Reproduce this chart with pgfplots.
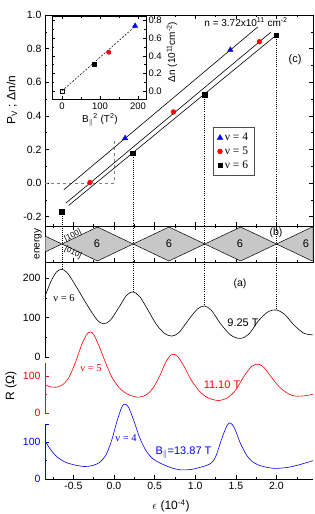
\documentclass[border=0pt]{standalone}
\usepackage{pgfplots}
\usepackage{pgfplotstable}
\pgfplotsset{compat=1.18}
\usepackage{fontspec}
\setmainfont{Liberation Sans}
\newfontfamily\tnr{Liberation Serif}

\pgfplotstableread{
e R
-0.85 153
-0.78 190
-0.71 215
-0.646 222
-0.58 214
-0.50 190
-0.39 152
-0.28 115
-0.20 92
-0.13 84
-0.05 92
0.05 122
0.15 155
0.231 165
0.32 152
0.42 118
0.52 83
0.62 60
0.71 53
0.80 62
0.92 95
1.03 122
1.115 129
1.20 118
1.32 82
1.44 55
1.556 47
1.66 58
1.78 92
1.90 115
2.0 119
2.10 108
2.22 80
2.34 60
2.45 56
}\blackdata

\pgfplotstableread{
e R
-0.85 77
-0.78 71
-0.72 70
-0.64 76
-0.56 95
-0.48 135
-0.40 185
-0.34 213
-0.296 221
-0.25 214
-0.18 180
-0.10 135
-0.02 95
0.08 65
0.18 50
0.296 43
0.40 50
0.48 68
0.56 100
0.64 140
0.70 158
0.732 160
0.78 155
0.86 128
0.95 90
1.05 60
1.15 42
1.284 34
1.40 42
1.50 63
1.60 100
1.70 128
1.78 133
1.85 123
1.95 94
2.05 68
2.15 52
2.235 46
2.35 47
2.45 51
}\reddata

\pgfplotstableread{
e R
-0.85 104
-0.78 80
-0.70 60
-0.60 46
-0.48 38
-0.36 34
-0.26 37
-0.18 45
-0.10 65
-0.03 105
0.04 160
0.10 198
0.136 204
0.18 195
0.25 155
0.32 110
0.40 75
0.48 55
0.57 43
0.70 31
0.815 25
0.95 26
1.08 33
1.18 41
1.25 60
1.33 112
1.39 145
1.432 153
1.48 140
1.53 112
1.556 97
1.60 78
1.638 63
1.70 48
1.78 38
1.90 31
2.00 29
2.15 32
2.30 40
2.45 50
}\bluedata

\begin{document}
\begin{tikzpicture}[x=1pt,y=1pt]
\pgfplotsset{
  every axis/.append style={
    scale only axis,
    /pgf/number format/assume math mode=true,
    tick align=inside,
    tick style={black, line width=0.5pt},
    major tick length=4pt,
    minor tick length=2.2pt,
    axis line style={line width=0.6pt},
    ticklabel style={font=\fontsize{10.5}{12}\selectfont},
  },
}
\tikzset{vdot/.style={black, line width=0.5pt, dash pattern=on 0.8pt off 1.3pt}}

% ---------------- panel (c)
\begin{axis}[
  at={(45pt,-15pt)}, anchor=north west,
  width=268pt, height=211pt,
  xmin=-0.85, xmax=2.45, ymin=-0.256, ymax=1.0,
  xtick distance=0.5, minor x tick num=1, xticklabels={},
  ytick={-0.2,0,0.2,0.4,0.6,0.8,1.0}, minor y tick num=1,
  yticklabel style={/pgf/number format/fixed, /pgf/number format/fixed zerofill, /pgf/number format/precision=1},
  legend style={at={(0.627,0.469)}, anchor=north west, draw=black!70, line width=0.5pt,
    font=\tnr\fontsize{11.5}{13}\selectfont, inner xsep=4pt, inner ysep=4pt, row sep=0.5pt,
    cells={anchor=west}},
  legend image code/.code={\draw[mark repeat=2,mark phase=2,#1] plot coordinates {(0cm,0cm)(0.2cm,0cm)(0.4cm,0cm)};},
]
\addplot[gray, dashed, line width=0.5pt, forget plot] coordinates {(-0.85,0) (0,0) (0,0.256)};
\addplot[vdot, forget plot] coordinates {(-0.642,-0.171) (-0.642,-0.256)};
\addplot[vdot, forget plot] coordinates {(0.231,0.177) (0.231,-0.256)};
\addplot[vdot, forget plot] coordinates {(1.115,0.526) (1.115,-0.256)};
\addplot[vdot, forget plot] coordinates {(2.0,0.881) (2.0,-0.256)};
\addplot[black, line width=0.6pt, forget plot] coordinates {(-0.617,-0.040) (1.77,0.929)};
\addplot[black, line width=0.6pt, forget plot] coordinates {(-0.593,-0.120) (1.93,0.897)};
\addplot[black, line width=0.6pt, forget plot] coordinates {(-0.56,-0.134) (2.0,0.881)};
\addplot[only marks, mark=triangle*, mark size=3.2pt, color=blue] coordinates {(0.136,0.266) (1.432,0.792)};
\addlegendentry{ν = 4}
\addplot[only marks, mark=*, mark size=2.4pt, color=red] coordinates {(-0.296,0.003) (0.732,0.423) (1.79,0.841)};
\addlegendentry{ν = 5}
\addplot[only marks, mark=square*, mark size=2.2pt, color=black] coordinates {(-0.642,-0.171) (0.231,0.177) (1.115,0.526) (2.0,0.881)};
\addlegendentry{ν = 6}
\end{axis}

% ---------------- inset
\begin{axis}[
  at={(52pt,-16pt)}, anchor=north west,
  width=94pt, height=83pt,
  xmin=-26, xmax=221, ymin=-0.091, ymax=0.852,
  xtick={0,100,200}, minor x tick num=1,
  ytick={0,0.2,0.4,0.6,0.8}, minor y tick num=1,
  yticklabel pos=right,
  major tick length=3pt, minor tick length=1.8pt,
  ticklabel style={font=\fontsize{9.5}{11}\selectfont},
  yticklabel style={/pgf/number format/fixed, /pgf/number format/fixed zerofill, /pgf/number format/precision=1, xshift=-1pt},
  axis background/.style={fill=white},
  axis line style={line width=0.5pt},
]
\addplot[black, dash pattern=on 2pt off 1.5pt, line width=0.5pt] coordinates {(0,0) (195,0.745)};
\addplot[only marks, mark=square, mark size=2pt, black, fill=white] coordinates {(0,0)};
\addplot[only marks, mark=square*, mark size=2pt, black] coordinates {(85.6,0.30)};
\addplot[only marks, mark=*, mark size=2.2pt, red] coordinates {(123.2,0.44)};
\addplot[only marks, mark=triangle*, mark size=3pt, blue] coordinates {(192.4,0.74)};
\end{axis}

% ---------------- energy panel (b)
\begin{axis}[
  at={(45pt,-226pt)}, anchor=north west,
  width=268pt, height=36pt,
  xmin=-0.85, xmax=2.45, ymin=-0.03, ymax=1.03,
  xtick distance=0.5, minor x tick num=1, xticklabels={},
  ytick=\empty,
]
\addplot[fill=black!22, draw=black, line width=0.5pt] coordinates {
(-0.85,0.737) (-0.642,0.5) (-0.2035,1) (0.235,0.5) (0.6765,1) (1.118,0.5) (1.559,1) (2.0,0.5) (2.44,1) (2.45,0.989)
(2.45,0.011) (2.44,0) (2.0,0.5) (1.559,0) (1.118,0.5) (0.6765,0) (0.235,0.5) (-0.2035,0) (-0.642,0.5) (-0.85,0.263)} -- cycle;
\addplot[vdot] coordinates {(-0.642,-0.03) (-0.642,1.03)};
\addplot[vdot] coordinates {(0.231,-0.03) (0.231,1.03)};
\addplot[vdot] coordinates {(1.115,-0.03) (1.115,1.03)};
\addplot[vdot] coordinates {(2.0,-0.03) (2.0,1.03)};
\end{axis}

% ---------------- panel (a)
\begin{axis}[
  at={(45pt,-262pt)}, anchor=north west,
  width=268pt, height=217pt,
  xmin=-0.85, xmax=2.45, ymin=0, ymax=217,
  clip=false,
  separate axis lines,
  y axis line style={draw=none},
  xtick pos=bottom,
  xtick distance=0.5, minor x tick num=1,
  xticklabel style={/pgf/number format/fixed, /pgf/number format/fixed zerofill, /pgf/number format/precision=1},
  ytick={0,36.7,66,102.7,122,161.5,201},
  yticklabels={\textcolor{blue}{0},\textcolor{blue}{100},\textcolor{red}{0},\textcolor{red}{100},0,100,200},
  ytick style={draw=none},
  yticklabel style={xshift=-1pt},
]
\addplot[black, line width=0.6pt, smooth] table[x=e, y expr={122+0.395*\thisrow{R}}] {\blackdata};
\addplot[red, line width=0.6pt, smooth] table[x=e, y expr={66+0.367*\thisrow{R}}] {\reddata};
\addplot[blue, line width=0.6pt, smooth] table[x=e, y expr={0.367*\thisrow{R}}] {\bluedata};
\addplot[vdot] coordinates {(-0.642,217) (-0.642,209.7)};
\addplot[vdot] coordinates {(0.231,217) (0.231,187.2)};
\addplot[vdot] coordinates {(1.115,217) (1.115,173)};
\addplot[vdot] coordinates {(2.0,217) (2.0,169)};
% coloured y-axis segments
\draw[blue, line width=0.6pt] (axis cs:-0.85,0) -- (axis cs:-0.85,55);
\draw[red, line width=0.6pt] (axis cs:-0.85,66) -- (axis cs:-0.85,116);
\draw[black, line width=0.6pt] (axis cs:-0.85,122) -- (axis cs:-0.85,217);
\draw[blue, line width=0.5pt] (axis cs:-0.85,36.7) -- ++(4pt,0pt);
\draw[blue, line width=0.5pt] (axis cs:-0.85,55) -- ++(4pt,0pt);
\draw[blue, line width=0.5pt] (axis cs:-0.85,18.35) -- ++(2.2pt,0pt);
\draw[red, line width=0.5pt] (axis cs:-0.85,66) -- ++(4pt,0pt);
\draw[red, line width=0.5pt] (axis cs:-0.85,102.7) -- ++(4pt,0pt);
\draw[red, line width=0.5pt] (axis cs:-0.85,84.35) -- ++(2.2pt,0pt);
\draw[black, line width=0.5pt] (axis cs:-0.85,122) -- ++(4pt,0pt);
\draw[black, line width=0.5pt] (axis cs:-0.85,161.5) -- ++(4pt,0pt);
\draw[black, line width=0.5pt] (axis cs:-0.85,201) -- ++(4pt,0pt);
\draw[black, line width=0.5pt] (axis cs:-0.85,141.75) -- ++(2.2pt,0pt);
\draw[black, line width=0.5pt] (axis cs:-0.85,181.25) -- ++(2.2pt,0pt);
\end{axis}

% ---------------- texts
\node[rotate=90, font=\fontsize{12}{14}\selectfont] at (12,-100) {P\textsubscript{V} ;  Δn/n};
\node[rotate=90, font=\fontsize{12}{14}\selectfont] at (11,-386) {R (Ω)};
\node[font=\fontsize{12}{14}\selectfont] at (171,-506) {$\epsilon$ (10\textsuperscript{-4})};
\node[rotate=90, font=\fontsize{10}{12}\selectfont] at (38,-244) {energy};
\node[font=\fontsize{10}{12}\selectfont] at (246,-22) {n = 3.72x10\textsuperscript{11} cm\textsuperscript{-2}};
\node[font=\fontsize{11}{13}\selectfont] at (295,-60) {(c)};
\node[rotate=90, font=\fontsize{10}{12}\selectfont] at (172,-52) {Δn (10\textsuperscript{11}cm\textsuperscript{-2})};
\node[font=\fontsize{10}{12}\selectfont] at (100,-120) {B\textsubscript{$\|$}\textsuperscript{2} (T\textsuperscript{2})};
% energy labels
\node[font=\fontsize{11}{13}\selectfont] at (97,-244) {6};
\node[font=\fontsize{11}{13}\selectfont] at (169,-244) {6};
\node[font=\fontsize{11}{13}\selectfont] at (240,-244) {6};
\node[font=\fontsize{11}{13}\selectfont] at (306,-244) {6};
\node[rotate=26, font=\fontsize{8}{9}\selectfont] at (73,-235.5) {[100]};
\node[rotate=-26, font=\fontsize{8}{9}\selectfont] at (73,-252.5) {[010]};
\node[font=\fontsize{10.5}{12}\selectfont] at (276,-233) {(b)};
% panel a labels
\node[font=\fontsize{10.5}{12}\selectfont] at (240,-284) {(a)};
\node[font=\tnr\fontsize{10.5}{12}\selectfont] at (64,-298) {ν = 6};
\node[font=\tnr\fontsize{10.5}{12}\selectfont, red] at (91,-368) {ν = 5};
\node[font=\tnr\fontsize{10.5}{12}\selectfont, blue] at (126,-438) {ν = 4};
\node[font=\fontsize{11}{13}\selectfont] at (243,-323) {9.25 T};
\node[font=\fontsize{11}{13}\selectfont, red] at (222,-385) {11.10 T};
\node[font=\fontsize{11}{13}\selectfont, blue] at (183.5,-453) {B\textsubscript{$\|$}=13.87 T};

\pgfresetboundingbox
\useasboundingbox (0,0) rectangle (314,-514);
\end{tikzpicture}
\end{document}
